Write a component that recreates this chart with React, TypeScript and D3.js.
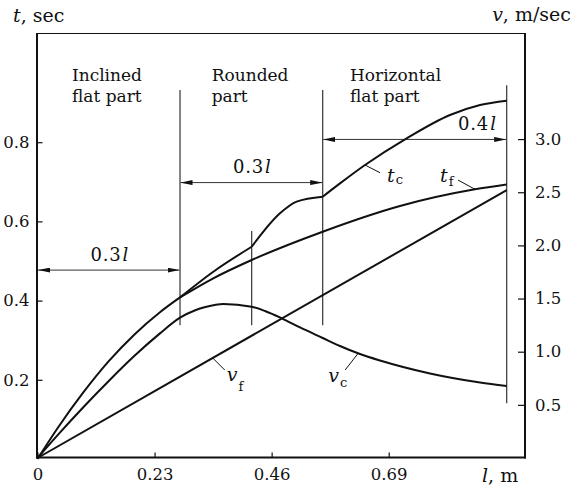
import React, { useEffect, useRef } from 'react';
import * as d3 from 'd3';

const W = 584, H = 488;

// axis ticks
const xTicks = [0, 0.23, 0.46, 0.69];        // l, m
const tTicks = [0.2, 0.4, 0.6, 0.8];          // t, sec (left)
const vTicks = [0.5, 1.0, 1.5, 2.0, 2.5, 3.0]; // v, m/sec (right)

// time on the inclined part, same for both cases (l in m)
const lIncl = [0, 0.04, 0.09, 0.14, 0.19, 0.24, 0.28];
const tIncl = [0, 0.079, 0.168, 0.247, 0.314, 0.37, 0.408];

// t_c, split where it has corners
const lTc = [
  [0.28, 0.3454, 0.4208],
  [0.4208, 0.4764, 0.5092, 0.5603],
  [0.5603, 0.5943, 0.6434, 0.7253, 0.8104, 0.8694, 0.9218],
];
const tTc = [
  [0.408, 0.473, 0.536],
  [0.536, 0.6205, 0.65, 0.6624],
  [0.6624, 0.696, 0.7424, 0.8098, 0.8687, 0.8939, 0.9048],
];

// t_f
const lTf = [0.28, 0.3454, 0.4208, 0.5603, 0.7122, 0.8595, 0.9218];
const tTf = [0.408, 0.4563, 0.5025, 0.574, 0.6389, 0.681, 0.6932];

// v_c
const lVc = [0, 0.04, 0.09, 0.14, 0.19, 0.24, 0.28, 0.31, 0.33, 0.365, 0.4208, 0.447, 0.4798, 0.5157,
  0.5603, 0.5943, 0.6336, 0.6729, 0.7711, 0.8694, 0.9218];
const vVc = [0, 0.218, 0.478, 0.725, 0.959, 1.17, 1.32, 1.39, 1.42, 1.449, 1.423, 1.383, 1.314, 1.228,
  1.129, 1.054, 0.978, 0.917, 0.795, 0.71, 0.677];

// v_f
const lVf = [0, 0.9218];
const vVf = [0, 2.52];

// vertical marker lines: position, top and bottom (in t units)
const markL = [0.28, 0.4208, 0.5603, 0.9218];
const markTop = [0.932, 0.576, 0.932, 0.944];
const markBot = [0.338, 0.338, 0.338, 0.141];

// dimension arrows
const dimFrom = [0, 0.28, 0.5603];
const dimTo = [0.28, 0.5603, 0.9218];
const dimAt = [0.477, 0.698, 0.807];
const dimText = ['0.3', '0.3', '0.4'];

// part titles
const partTitles = [['Inclined', 'flat part'], ['Rounded', 'part'], ['Horizontal', 'flat part']];
const partStart = [0, 0.28, 0.5603];
const partDx = [34.5, 31.7, 27.3];

// curve labels
const labName = ['t', 't', 'v', 'v'];
const labSub = ['c', 'f', 'f', 'c'];
const labAt = [0.6434, 0.8595, 0.3442, 0.63];

const draw = (el: SVGSVGElement) => {
  const svg = d3.select(el);
  svg.selectAll('*').remove();
  const font = 'DejaVu Serif';
  const ink = '#111';

  const x = d3.scaleLinear().domain([0, 1]).range([37.5, 546.5]);
  const t = d3.scaleLinear().domain([0, 1]).range([459, 63]);
  const v = d3.scaleLinear().domain([0, 1]).range([458, 351.7]);

  const left = 37, right = 525, top = 33, bottom = 457.5;

  const defs = svg.append('defs');
  defs.append('marker').attr('id', 'arr')
    .attr('viewBox', '0 0 12 5').attr('refX', 12).attr('refY', 2.5)
    .attr('markerWidth', 12).attr('markerHeight', 5)
    .attr('markerUnits', 'userSpaceOnUse').attr('orient', 'auto-start-reverse')
    .append('path').attr('d', 'M0,0L12,2.5L0,5Z').attr('fill', ink);

  // frame
  svg.append('line').attr('x1', left).attr('x2', right).attr('y1', top + 0.5).attr('y2', top + 0.5)
    .attr('stroke', ink).attr('stroke-width', 1.1);
  svg.append('line').attr('x1', left).attr('x2', left).attr('y1', top).attr('y2', bottom + 1)
    .attr('stroke', ink).attr('stroke-width', 2);
  svg.append('line').attr('x1', right).attr('x2', right).attr('y1', top).attr('y2', bottom + 1)
    .attr('stroke', ink).attr('stroke-width', 2);
  svg.append('line').attr('x1', left - 1).attr('x2', right + 1).attr('y1', bottom).attr('y2', bottom)
    .attr('stroke', ink).attr('stroke-width', 2);

  const styleAxis = (g: any, size: number) => {
    g.select('.domain').remove();
    g.attr('font-family', font);
    g.selectAll('line').attr('stroke', ink).attr('stroke-width', 1.2);
    g.selectAll('text').attr('font-family', font).attr('font-size', size).attr('fill', ink);
  };

  const gl = svg.append('g').attr('transform', `translate(${left + 0.5},0)`)
    .call(d3.axisLeft(t).tickValues(tTicks).tickSize(-5).tickPadding(8).tickFormat((d: any) => d3.format('.1f')(d)));
  styleAxis(gl, 16.5);

  const gr = svg.append('g').attr('transform', `translate(${right},0)`)
    .call(d3.axisRight(v).tickValues(vTicks).tickSize(-7).tickPadding(10).tickFormat((d: any) => d3.format('.1f')(d)));
  styleAxis(gr, 16.5);

  const gb = svg.append('g').attr('transform', `translate(0,${bottom})`)
    .call(d3.axisBottom(x).tickValues(xTicks).tickSize(-5).tickPadding(11)
      .tickFormat((d: any) => (d === 0 ? '0' : d3.format('.2f')(d))));
  styleAxis(gb, 16.5);

  // axis titles
  const title = (tx: number, ty: number, it: string, rest: string, anchor = 'start') => {
    const tt = svg.append('text').attr('x', tx).attr('y', ty).attr('text-anchor', anchor)
      .attr('font-family', font).attr('font-size', 19).attr('fill', ink);
    tt.append('tspan').attr('font-style', 'italic').text(it);
    tt.append('tspan').text(rest);
  };
  title(13, 22, 't', ', sec');
  title(571, 21, 'v', ', m/sec', 'end');
  title(482, 481.5, 'l', ', m');

  // vertical markers
  svg.append('g').selectAll('line').data(markL).join('line')
    .attr('x1', d => x(d)).attr('x2', d => x(d))
    .attr('y1', (d, i) => t(markTop[i])).attr('y2', (d, i) => t(markBot[i]))
    .attr('stroke', '#333').attr('stroke-width', 1.2);

  // dimension arrows
  const dim = svg.append('g');
  dimFrom.forEach((a, i) => {
    dim.append('line').attr('x1', x(a) + 0.5).attr('x2', x(dimTo[i]) - 0.5)
      .attr('y1', t(dimAt[i])).attr('y2', t(dimAt[i]))
      .attr('stroke', '#333').attr('stroke-width', 1)
      .attr('marker-start', 'url(#arr)').attr('marker-end', 'url(#arr)');
    const lastOne = i === dimFrom.length - 1;
    const tx = dim.append('text')
      .attr('x', lastOne ? x(dimTo[i]) - 10 : (x(a) + x(dimTo[i])) / 2 + 1)
      .attr('y', t(dimAt[i]) - 9.5)
      .attr('text-anchor', lastOne ? 'end' : 'middle')
      .attr('font-family', font).attr('font-size', 18).attr('fill', ink)
      .attr('letter-spacing', 0.8);
    tx.append('tspan').text(dimText[i]);
    tx.append('tspan').attr('font-style', 'italic').attr('dx', 1).text('l');
  });

  // part titles
  partTitles.forEach((lines, i) => {
    const tx = svg.append('text').attr('font-family', font).attr('font-size', 17).attr('fill', ink);
    lines.forEach((s, j) => {
      tx.append('tspan').attr('x', x(partStart[i]) + partDx[i]).attr('y', 81 + j * 21).text(s);
    });
  });

  // curves
  const lineT = d3.line<[number, number]>().x(d => x(d[0])).y(d => t(d[1])).curve(d3.curveMonotoneX);
  const lineV = d3.line<[number, number]>().x(d => x(d[0])).y(d => v(d[1])).curve(d3.curveMonotoneX);
  const pairs = (a: number[], b: number[]) => a.map((d, i) => [d, b[i]] as [number, number]);
  const curves = svg.append('g').attr('fill', 'none').attr('stroke', ink).attr('stroke-width', 2)
    .attr('stroke-linejoin', 'round');
  curves.append('path').attr('d', lineT(pairs(lIncl, tIncl)));
  lTc.forEach((seg, i) => curves.append('path').attr('d', lineT(pairs(seg, tTc[i]))));
  curves.append('path').attr('d', lineT(pairs(lTf, tTf)));
  curves.append('path').attr('d', lineV(pairs(lVc, vVc)));
  curves.append('path').attr('d', lineV(pairs(lVf, vVf)));

  // curve labels with leaders
  const lTcAll = lTc.flat();
  const tTcAll = tTc.flat();
  const keep = lTcAll.map((d, i) => lTcAll.indexOf(d) === i);
  const tcAll = d3.scaleLinear().domain(lTcAll.filter((d, i) => keep[i])).range(tTcAll.filter((d, i) => keep[i]));
  const onCurve = [
    (l: number) => t(tcAll(l)),
    (l: number) => t(d3.scaleLinear().domain(lTf).range(tTf)(l)),
    (l: number) => v(d3.scaleLinear().domain(lVf).range(vVf)(l)),
    (l: number) => v(d3.scaleLinear().domain(lVc).range(vVc)(l)),
  ];
  const leadDx = [15, -17, 12, -13];
  const leadDy = [7.7, -9.3, 12, 16.7];
  const textDx = [22, -35, 14, -30];
  const textDy = [16.7, -7.6, 23.4, 28.4];
  const subDy = [2, 4.5, 10, 5];
  const labs = svg.append('g');
  labAt.forEach((l, i) => {
    const px = x(l), py = onCurve[i](l);
    labs.append('line').attr('x1', px).attr('y1', py)
      .attr('x2', px + leadDx[i]).attr('y2', py + leadDy[i])
      .attr('stroke', ink).attr('stroke-width', 1);
    const tx = labs.append('text').attr('x', px + textDx[i]).attr('y', py + textDy[i])
      .attr('font-family', font).attr('fill', ink);
    tx.append('tspan').attr('font-size', 19).attr('font-style', 'italic').text(labName[i]);
    tx.append('tspan').attr('font-size', 13).attr('dx', 1).attr('dy', subDy[i]).text(labSub[i]);
  });
};

export default function App() {
  const ref = useRef<SVGSVGElement>(null);
  useEffect(() => {
    if (ref.current) draw(ref.current);
  }, []);
  return (
    <svg ref={ref} width={W} height={H}
      style={{ position: 'absolute', left: 0, top: 0, background: '#fff' }} />
  );
}
